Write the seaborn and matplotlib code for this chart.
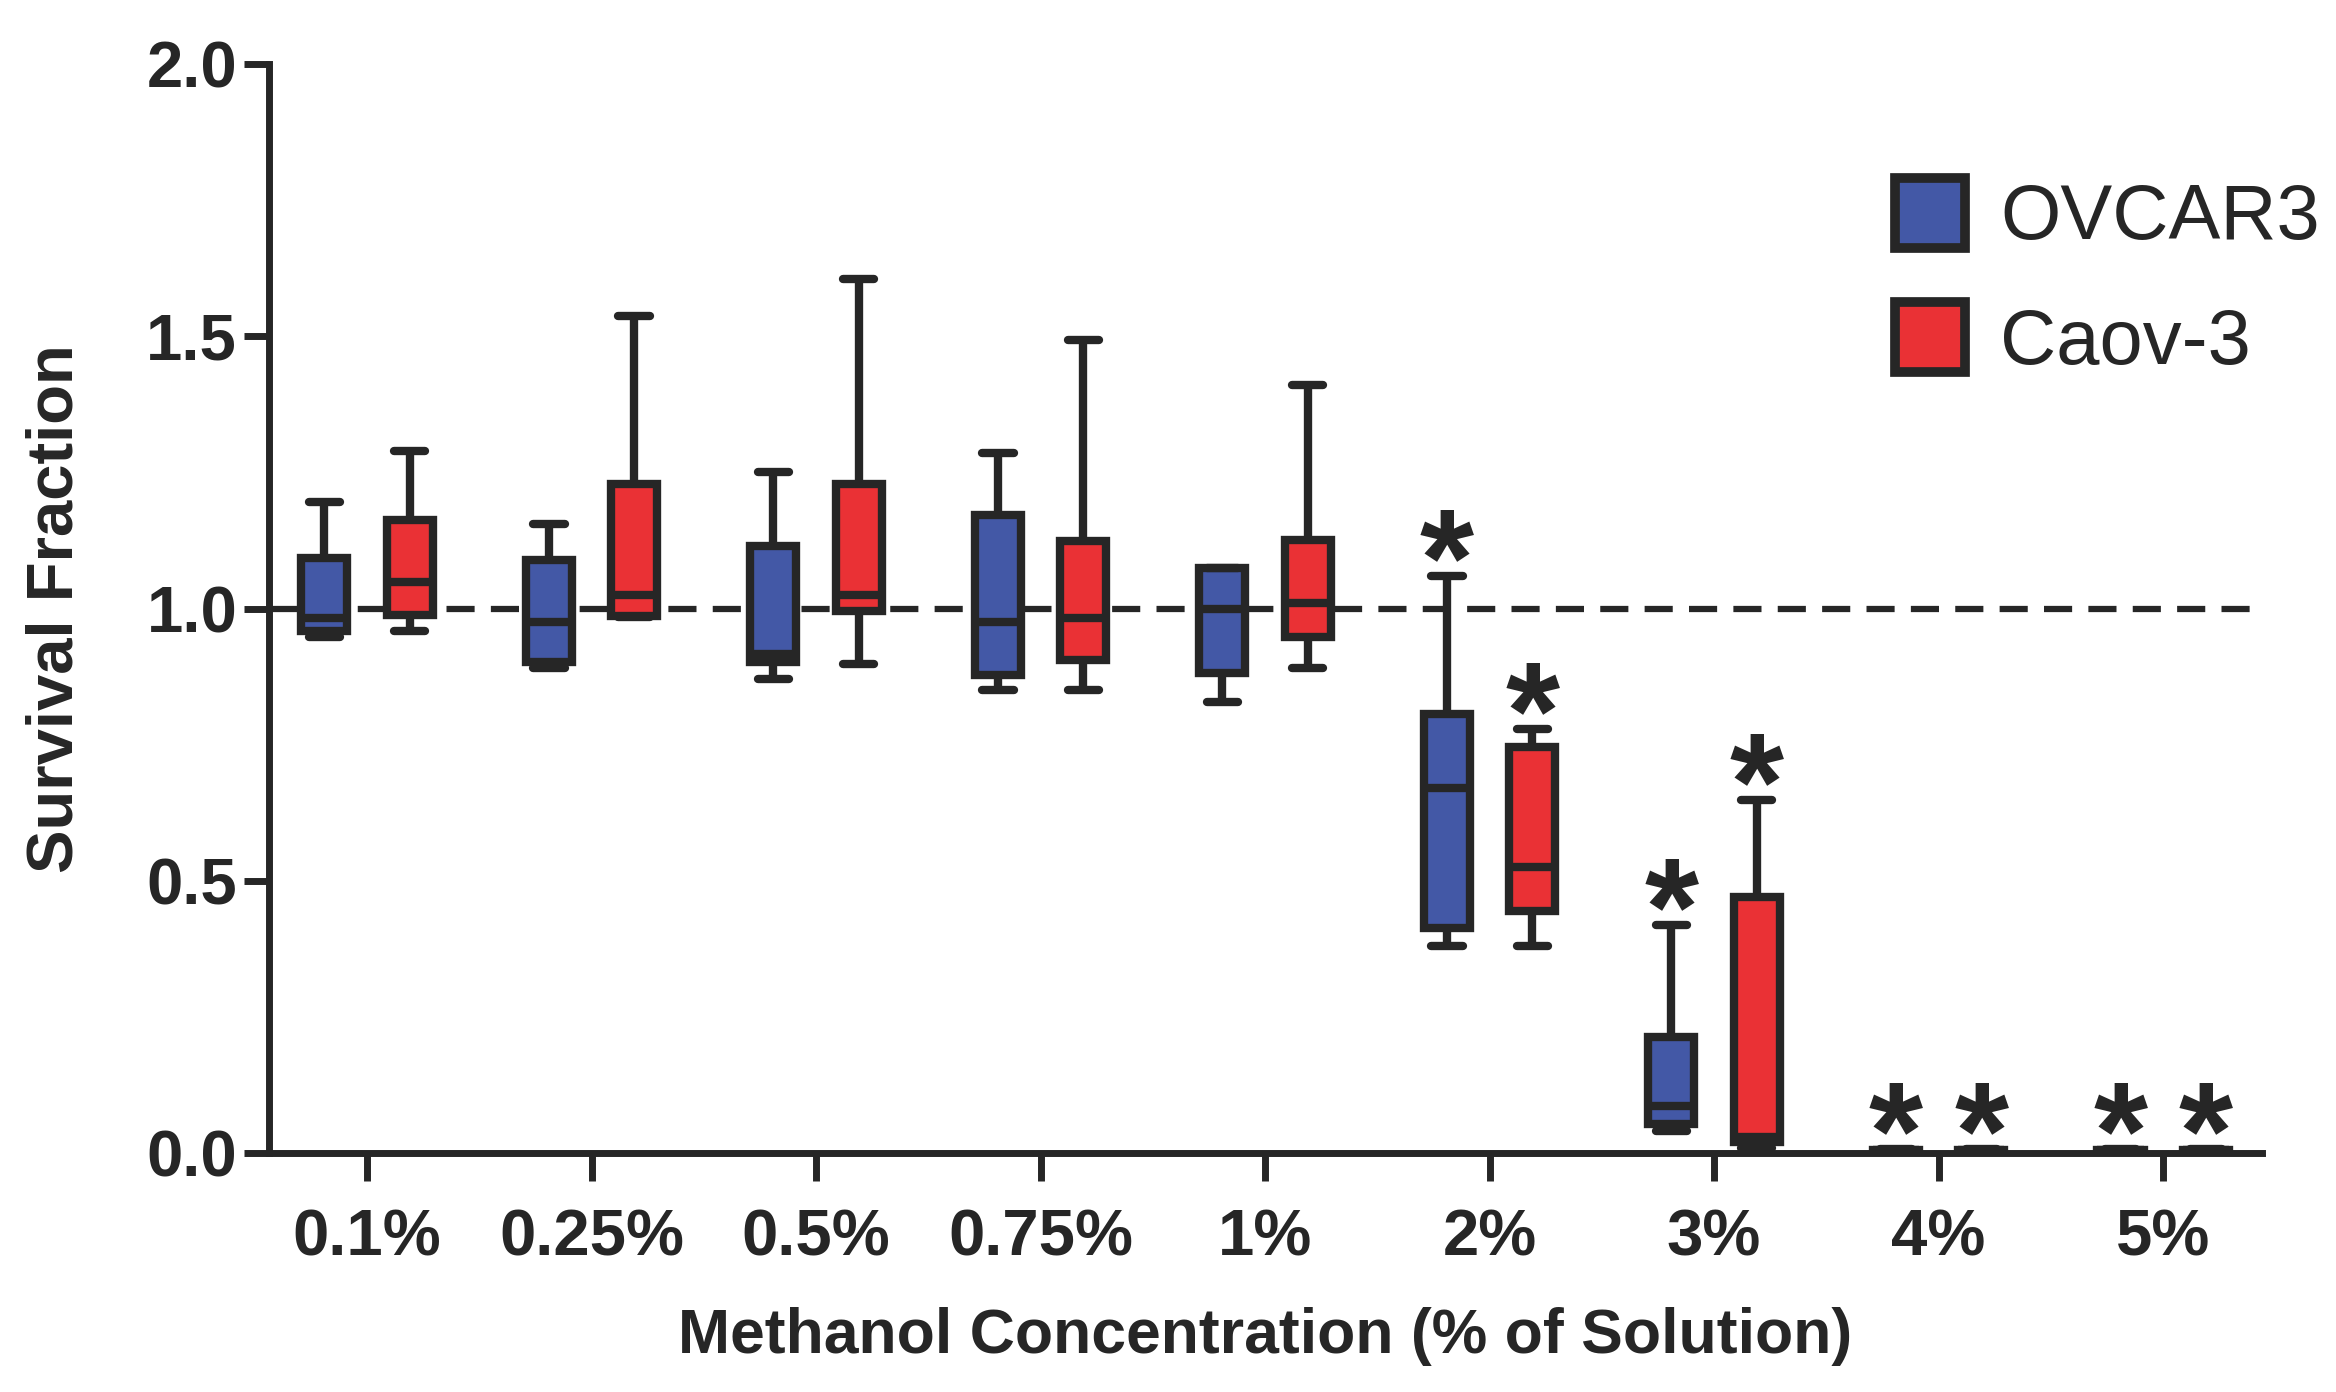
import numpy as np
import pandas as pd
import matplotlib
matplotlib.use("Agg")
import matplotlib.pyplot as plt
import seaborn as sns
from matplotlib.patches import Patch

# ======================
# data
# ======================
concentrations = ["0.1%", "0.25%", "0.5%", "0.75%", "1%", "2%", "3%", "4%", "5%"]
cell_lines = ["OVCAR3", "Caov-3"]

# per concentration: min, q1, median, q3, max
ovcar3_vals = [
    [0.947, 0.959, 0.982, 1.093, 1.195],
    [0.890, 0.902, 0.976, 1.089, 1.156],
    [0.870, 0.902, 0.917, 1.115, 1.250],
    [0.850, 0.878, 0.976, 1.171, 1.285],
    [0.828, 0.881, 1.000, 1.075, 1.075],
    [0.380, 0.413, 0.670, 0.807, 1.059],
    [0.041, 0.053, 0.086, 0.213, 0.419],
    [0.003, 0.004, 0.005, 0.006, 0.007],
    [0.003, 0.004, 0.005, 0.006, 0.007],
]
caov3_vals = [
    [0.959, 0.988, 1.049, 1.163, 1.290],
    [0.985, 0.987, 1.025, 1.229, 1.538],
    [0.898, 0.996, 1.024, 1.229, 1.605],
    [0.850, 0.906, 0.982, 1.124, 1.494],
    [0.890, 0.948, 1.011, 1.126, 1.411],
    [0.380, 0.444, 0.526, 0.746, 0.778],
    [0.010, 0.020, 0.030, 0.470, 0.648],
    [0.003, 0.004, 0.005, 0.006, 0.007],
    [0.003, 0.004, 0.005, 0.006, 0.007],
]
significant = ["2%", "3%", "4%", "5%"]

colors = {"OVCAR3": "#4358A6", "Caov-3": "#EA3135"}
edge = "#262626"

rows = []
for line, vals in zip(cell_lines, [ovcar3_vals, caov3_vals]):
    for conc, v in zip(concentrations, vals):
        for x in v:
            rows.append({"conc": conc, "line": line, "val": x})
df = pd.DataFrame(rows)

# ======================
# plot
# ======================
sns.set_style("ticks")
plt.rcParams["font.family"] = ["Liberation Sans", "DejaVu Sans"]

fig = plt.figure(figsize=(23.36, 13.92), dpi=100)
ax = fig.add_axes([0.1152, 0.1717, 0.8531, 0.7823])

box_w = 0.76
sns.boxplot(data=df, x="conc", y="val", hue="line", order=concentrations,
            hue_order=cell_lines, palette=colors, saturation=1, width=box_w,
            gap=0.46, whis=(0, 100), linewidth=6, linecolor=edge, fliersize=0,
            capwidths=0.14, capprops={"solid_capstyle": "round"},
            legend=False, ax=ax)

ax.axhline(1.0, color=edge, lw=4.5, ls=(0, (4.5, 2.6)), zorder=0.9)

# significance stars above the upper whisker
for j, (line, vals) in enumerate(zip(cell_lines, [ovcar3_vals, caov3_vals])):
    off = (j - 0.5) * box_w / 2
    for i, conc in enumerate(concentrations):
        if conc in significant:
            ax.annotate("*", (i + off, max(vals[i])), xytext=(0, -21),
                        textcoords="offset points", ha="center", va="baseline",
                        fontsize=100, fontweight="bold", color=edge)

ax.set_xlim(-0.436, 8.44)
ax.set_ylim(0, 2.0)
ax.set_yticks([0.0, 0.5, 1.0, 1.5, 2.0])
ax.set_yticklabels(["0.0", "0.5", "1.0", "1.5", "2.0"])

sns.despine(ax=ax)
for s in ["left", "bottom"]:
    ax.spines[s].set_linewidth(5)
    ax.spines[s].set_color(edge)
ax.tick_params(axis="y", length=18, width=5, pad=5, color=edge,
               labelsize=47, labelcolor=edge)
ax.tick_params(axis="x", length=20, width=5, pad=20, color=edge,
               labelsize=47, labelcolor=edge)
for lab in ax.get_xticklabels() + ax.get_yticklabels():
    lab.set_fontweight("bold")

ax.set_xlabel("Methanol Concentration (% of Solution)", fontsize=45,
              fontweight="bold", color=edge, labelpad=28)
ax.set_ylabel("Survival Fraction", fontsize=47, fontweight="bold",
              color=edge, labelpad=44)

handles = [Patch(facecolor=colors[l], edgecolor=edge, linewidth=7, label=l)
           for l in cell_lines]
fig.legend(handles=handles, loc="upper left",
           bbox_to_anchor=(1895 / 2336, 1 - 178 / 1392), frameon=False,
           fontsize=56, handlelength=0.9, handleheight=1.0,
           handletextpad=0.45, labelspacing=0.6, borderpad=0,
           borderaxespad=0, labelcolor=edge)

fig.savefig("out.png", dpi=100, facecolor="white")
